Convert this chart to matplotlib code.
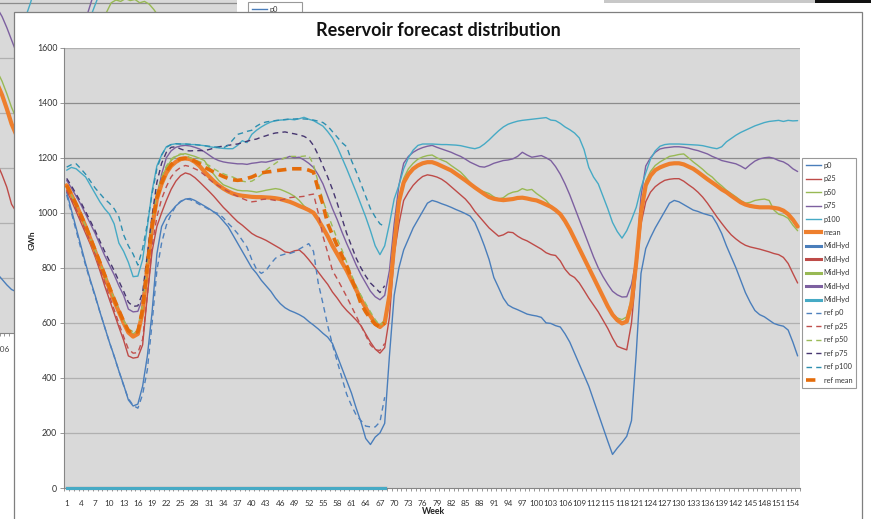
import matplotlib
matplotlib.use("Agg")
import matplotlib.pyplot as plt
from matplotlib.lines import Line2D
from matplotlib.patches import Rectangle

plt.rcParams['font.family'] = ['Lato', 'DejaVu Sans']

W, H = 871, 519

weeks = list(range(1, 156))
ref_weeks = list(range(1, 69))
tick_weeks = list(range(1, 156, 3))
y_ticks = [0, 200, 400, 600, 800, 1000, 1200, 1400, 1600]

# forecast percentiles (GWh), weeks 1..155
p0 = [1075, 1010, 945, 880, 815, 755, 700, 640, 585, 530,
      480, 425, 375, 320, 298, 305, 370, 480, 640, 850,
      950, 985, 1005, 1025, 1040, 1050, 1052, 1045, 1035, 1025,
      1015, 1003, 990, 970, 950, 920, 890, 860, 830, 800,
      780, 755, 735, 715, 690, 670, 655, 645, 638, 630,
      620, 605, 592, 578, 562, 548, 525, 480, 435, 390,
      345, 290, 240, 180, 158, 185, 200, 235, 480, 700,
      800, 865, 905, 945, 975, 1005, 1035, 1045, 1040, 1033,
      1027, 1020, 1012, 1005, 997, 988, 965, 925, 880, 830,
      765, 728, 690, 665, 655, 648, 640, 632, 628, 625,
      620, 600, 598, 590, 585, 560, 530, 490, 450, 410,
      370, 320, 270, 220, 170, 122, 145, 165, 188, 245,
      490, 780, 870, 910, 945, 975, 1005, 1035, 1045, 1040,
      1030, 1020, 1010, 1005, 998, 993, 988, 960, 925, 880,
      840, 800, 755, 710, 675, 645, 630, 622, 610, 598,
      592, 588, 574, 530, 480]

p25 = [1080, 1045, 1005, 965, 925, 885, 840, 790, 735, 685,
       635, 585, 537, 480, 472, 475, 520, 700, 860, 950,
       1000, 1045, 1085, 1115, 1135, 1145, 1140, 1128, 1112, 1095,
       1078, 1060, 1040, 1020, 1003, 985, 968, 955, 940, 925,
       915, 908, 900, 890, 880, 870, 858, 855, 862, 865,
       850, 830, 808, 785, 762, 740, 712, 690, 665, 645,
       628, 610, 590, 560, 530, 505, 490, 510, 620, 850,
       960, 1045, 1075, 1100, 1118, 1132, 1138, 1135, 1130, 1122,
       1110, 1095, 1080, 1065, 1050, 1030, 1005, 985, 965, 945,
       930, 915, 920, 930, 928, 915, 905, 898, 888, 878,
       868, 855, 848, 845, 825, 795, 775, 765, 745, 718,
       690, 665, 640, 610, 580, 545, 515, 508, 502, 600,
       790, 960, 1040, 1075, 1095, 1108, 1118, 1122, 1124, 1124,
       1115, 1102, 1090, 1075, 1057, 1035, 1010, 985, 962, 940,
       920, 905, 892, 882, 876, 872, 868, 863, 858, 852,
       848, 838, 816, 780, 745]

p50 = [1095, 1062, 1028, 990, 950, 906, 862, 818, 773, 728,
       685, 645, 606, 572, 560, 572, 660, 830, 975, 1070,
       1125, 1165, 1190, 1205, 1212, 1215, 1210, 1205, 1198, 1190,
       1165, 1140, 1118, 1102, 1095, 1088, 1082, 1080, 1080, 1078,
       1075, 1078, 1082, 1085, 1088, 1085, 1078, 1070, 1060, 1045,
       1025, 1012, 1000, 975, 945, 912, 878, 848, 818, 788,
       755, 722, 690, 660, 630, 605, 592, 610, 720, 900,
       1055, 1125, 1160, 1180, 1195, 1203, 1208, 1210, 1200, 1192,
       1185, 1172, 1160, 1148, 1130, 1110, 1090, 1082, 1076, 1070,
       1058, 1050, 1055, 1068, 1075, 1078, 1088, 1082, 1085, 1070,
       1058, 1045, 1025, 1010, 990, 965, 935, 900, 865, 830,
       795, 760, 725, 690, 658, 632, 618, 612, 622, 690,
       840, 1015, 1115, 1150, 1172, 1185, 1195, 1205, 1208, 1212,
       1214, 1200, 1185, 1172, 1158, 1142, 1130, 1112, 1098, 1082,
       1070, 1058, 1045, 1035, 1038, 1045, 1048, 1050, 1045, 1010,
       995, 990, 980, 955, 935]

p75 = [1118, 1090, 1060, 1030, 995, 960, 925, 885, 845, 810,
       775, 735, 700, 650, 640, 642, 690, 820, 950, 1050,
       1140, 1200, 1225, 1238, 1243, 1245, 1243, 1238, 1232, 1222,
       1210, 1198, 1190, 1185, 1182, 1180, 1178, 1178, 1176, 1180,
       1182, 1185, 1184, 1188, 1193, 1196, 1198, 1205, 1200, 1202,
       1192, 1180, 1165, 1138, 1105, 1060, 1015, 975, 930, 888,
       850, 810, 775, 745, 715, 695, 684, 700, 790, 960,
       1100, 1180, 1205, 1220, 1230, 1237, 1242, 1245, 1238, 1232,
       1226, 1220, 1212, 1205, 1195, 1184, 1176, 1168, 1166, 1172,
       1180, 1185, 1190, 1192, 1196, 1205, 1220, 1210, 1202, 1205,
       1208, 1200, 1190, 1168, 1140, 1105, 1065, 1020, 975, 930,
       885, 840, 800, 768, 740, 715, 702, 694, 695, 740,
       830, 1060, 1170, 1200, 1220, 1232, 1236, 1238, 1240, 1240,
       1238, 1235, 1230, 1226, 1220, 1214, 1205, 1198, 1190, 1186,
       1182, 1178, 1170, 1160, 1175, 1188, 1196, 1200, 1202, 1198,
       1190, 1185, 1175, 1160, 1150]

p100 = [1155, 1165, 1160, 1145, 1130, 1100, 1070, 1040, 1015, 995,
        960, 890, 860, 820, 768, 770, 830, 950, 1080, 1170,
        1210, 1240, 1248, 1251, 1250, 1250, 1248, 1248, 1246, 1244,
        1240, 1238, 1236, 1234, 1233, 1233, 1245, 1262, 1255, 1285,
        1300, 1312, 1322, 1330, 1335, 1337, 1338, 1340, 1338, 1342,
        1347, 1340, 1335, 1325, 1315, 1295, 1272, 1240, 1200, 1160,
        1118, 1075, 1030, 985, 935, 880, 848, 880, 960, 1050,
        1100, 1160, 1200, 1228, 1245, 1250, 1250, 1250, 1249, 1248,
        1248, 1247, 1246, 1244, 1240, 1236, 1233, 1238, 1250, 1265,
        1282, 1298, 1312, 1322, 1328, 1333, 1336, 1338, 1340, 1342,
        1344, 1346, 1337, 1335, 1325, 1312, 1302, 1290, 1272, 1230,
        1165, 1130, 1105, 1060, 1015, 965, 932, 908, 935, 975,
        1020, 1090, 1145, 1195, 1225, 1242, 1248, 1250, 1250, 1250,
        1249, 1248, 1247, 1246, 1244, 1240, 1236, 1233, 1240, 1258,
        1270, 1282, 1292, 1300, 1308, 1316, 1322, 1328, 1332, 1334,
        1336, 1332, 1336, 1334, 1335]

mean = [1100, 1065, 1030, 990, 950, 905, 860, 815, 770, 725,
        680, 640, 600, 565, 550, 560, 640, 800, 950, 1050,
        1105, 1145, 1170, 1185, 1195, 1198, 1195, 1185, 1170, 1150,
        1132, 1115, 1100, 1088, 1078, 1070, 1065, 1062, 1060, 1058,
        1057, 1057, 1056, 1055, 1053, 1050, 1045, 1040, 1033, 1025,
        1018, 1010, 1000, 975, 945, 915, 880, 850, 820, 790,
        755, 720, 685, 655, 625, 598, 585, 600, 700, 880,
        1040, 1110, 1140, 1160, 1172, 1180, 1184, 1184, 1178, 1170,
        1162, 1154, 1142, 1130, 1118, 1105, 1092, 1080, 1068, 1057,
        1051, 1048, 1046, 1048, 1050, 1054, 1055, 1052, 1048, 1045,
        1038, 1030, 1022, 1010, 995, 970, 940, 905, 870, 835,
        800, 765, 730, 695, 660, 630, 610, 598, 605, 670,
        820, 1000, 1100, 1135, 1155, 1165, 1172, 1178, 1180, 1180,
        1176, 1168, 1160, 1148, 1135, 1122, 1110, 1098, 1085, 1075,
        1062, 1050, 1038, 1030, 1025, 1022, 1020, 1020, 1020, 1018,
        1015, 1008, 995, 975, 950]

# MidHyd series (all zero), weeks 1..68
midhyd = [0] * 68

# reference distribution, weeks 1..68
ref_p0 = [1065, 1000, 935, 870, 808, 750, 695, 640, 585, 530,
          478, 425, 372, 325, 300, 290, 340, 430, 600, 790,
          890, 955, 995, 1025, 1042, 1050, 1048, 1040, 1030, 1022,
          1012, 1003, 997, 982, 962, 945, 925, 900, 875, 830,
          795, 780, 790, 815, 835, 845, 850, 852, 858, 868,
          878, 888, 860, 745, 670, 590, 520, 460, 400, 340,
          300, 265, 245, 225, 222, 222, 240, 330]

ref_p25 = [1085, 1050, 1012, 975, 935, 895, 850, 800, 748, 698,
           648, 598, 550, 505, 490, 492, 540, 700, 880, 985,
           1050, 1095, 1130, 1152, 1165, 1172, 1168, 1160, 1152, 1138,
           1122, 1108, 1098, 1087, 1078, 1068, 1060, 1052, 1045, 1040,
           1042, 1048, 1050, 1048, 1045, 1046, 1050, 1055, 1057, 1058,
           1060, 1065, 1068, 1000, 915, 855, 790, 760, 728, 695,
           660, 625, 590, 555, 520, 502, 500, 525]

ref_p50 = [1098, 1065, 1030, 992, 952, 908, 864, 820, 775, 730,
           688, 648, 610, 578, 568, 578, 665, 830, 975, 1070,
           1130, 1170, 1195, 1208, 1214, 1210, 1200, 1192, 1186, 1180,
           1172, 1160, 1150, 1142, 1135, 1130, 1122, 1115, 1112, 1115,
           1125, 1138, 1155, 1168, 1180, 1192, 1200, 1205, 1205, 1204,
           1206, 1208, 1175, 1110, 1045, 995, 950, 905, 865, 820,
           775, 735, 700, 670, 640, 612, 590, 605]

ref_p75 = [1125, 1098, 1068, 1038, 1004, 970, 935, 897, 860, 825,
           790, 752, 715, 675, 660, 662, 710, 850, 990, 1110,
           1180, 1220, 1238, 1240, 1232, 1226, 1225, 1226, 1226, 1226,
           1230, 1235, 1240, 1242, 1245, 1248, 1250, 1255, 1260, 1265,
           1268, 1275, 1280, 1286, 1290, 1292, 1294, 1290, 1287, 1283,
           1278, 1268, 1245, 1210, 1170, 1130, 1085, 1035, 980, 925,
           880, 835, 800, 770, 745, 728, 710, 735]

ref_p100 = [1166, 1175, 1178, 1160, 1140, 1115, 1090, 1070, 1050, 1035,
            1015, 985, 920, 880, 850, 810, 870, 960, 1070, 1160,
            1210, 1238, 1248, 1251, 1250, 1250, 1249, 1248, 1246, 1244,
            1242, 1240, 1238, 1236, 1245, 1265, 1285, 1290, 1296, 1300,
            1315, 1325, 1330, 1333, 1335, 1337, 1339, 1341, 1341, 1342,
            1341, 1340, 1337, 1333, 1328, 1315, 1295, 1275, 1255, 1240,
            1190, 1150, 1105, 1060, 1015, 985, 960, 950]

ref_mean = [1100, 1066, 1030, 992, 952, 908, 864, 820, 775, 730,
            687, 646, 606, 572, 560, 568, 650, 810, 955, 1055,
            1110, 1150, 1175, 1190, 1197, 1198, 1195, 1188, 1178, 1166,
            1157, 1148, 1140, 1132, 1125, 1120, 1118, 1120, 1125, 1130,
            1138, 1145, 1148, 1150, 1153, 1155, 1157, 1160, 1160, 1160,
            1160, 1155, 1148, 1085, 1030, 960, 920, 880, 845, 808,
            760, 720, 670, 640, 615, 595, 585, 600]

# fragments of the chart window lying behind (same scale)
bg_weeks = [104, 105, 106, 107, 108, 109, 110]
bg_p75 = [1200, 1180, 1150, 1110, 1065, 1020, 980]
bg_p50 = [980, 950, 915, 870, 820, 780, 740]
bg_mean = [940, 905, 865, 815, 760, 720, 680]
bg_p25 = [650, 615, 575, 530, 468, 440, 410]
bg_p0 = [240, 215, 195, 175, 158, 150, 140]
bg_p100_a_weeks = [110, 111, 112, 113]
bg_p100_a = [1080, 1150, 1200, 1260]
bg_p75_b_weeks = [123, 124, 125, 126]
bg_p75_b = [1080, 1160, 1215, 1250]
bg_p100_b_weeks = [124, 125, 126, 127]
bg_p100_b = [1090, 1165, 1210, 1250]
bg_p50_b_weeks = list(range(127, 141))
bg_p50_b = [1120, 1165, 1200, 1210, 1205, 1215, 1208, 1212, 1200, 1205,
            1195, 1175, 1150, 1110]
bg_tick_weeks = [106]

C_P0, C_P25, C_P50, C_P75, C_P100 = '#4a7ebb', '#be4b48', '#98b954', '#7d60a0', '#46aac5'
C_MEAN = '#ee7f2d'
C_R0, C_R25, C_R50, C_R75, C_R100, C_RMEAN = '#4f81bd', '#c0504d', '#9bbb59', '#473670', '#2e8fb0', '#e46c0a'
DASH = (0, (4, 3))
THICK_DASH = (0, (2.6, 1.6))

main_styles = [
    ('p0', C_P0, '-', 1.0), ('p25', C_P25, '-', 1.0), ('p50', C_P50, '-', 1.0),
    ('p75', C_P75, '-', 1.0), ('p100', C_P100, '-', 1.0), ('mean', C_MEAN, '-', 3.0),
]
mid_colors = [C_P0, C_P25, C_P50, C_P75, C_P100]
ref_styles = [
    ('ref p0', C_R0, DASH, 1.0), ('ref p25', C_R25, DASH, 1.0), ('ref p50', C_R50, DASH, 1.0),
    ('ref p75', C_R75, DASH, 1.0), ('ref p100', C_R100, DASH, 1.0), ('ref mean', C_RMEAN, THICK_DASH, 2.6),
]


def box(l, t, r, b):
    return [l / W, 1 - b / H, (r - l) / W, (b - t) / H]


def legend_items():
    handles, labels = [], []
    for name, c, ls, lw in main_styles:
        handles.append(Line2D([], [], color=c, ls=ls, lw=lw))
        labels.append(name)
    for c in mid_colors:
        handles.append(Line2D([], [], color=c, lw=2.2))
        labels.append('MidHyd')
    for name, c, ls, lw in ref_styles:
        handles.append(Line2D([], [], color=c, ls=ls, lw=lw))
        labels.append(name)
    return handles, labels


def style_axes(ax, labelcolor, xt, show_y):
    ax.set_facecolor('#d9d9d9')
    ax.set_xlim(0.5, 155.5)
    ax.set_ylim(0, 1600)
    for v in y_ticks[1:]:
        col = '#8c8c8c' if v in (1200, 1400) else '#b0b0b0'
        ax.axhline(v, color=col, lw=0.9, zorder=0.5)
    for s in ('top', 'right'):
        ax.spines[s].set_visible(False)
    for s in ('left', 'bottom'):
        ax.spines[s].set_color('#868686')
        ax.spines[s].set_linewidth(0.8)
    if show_y:
        ax.set_yticks(y_ticks)
        ax.set_yticklabels([str(v) for v in y_ticks], fontsize=6.3, color=labelcolor)
    else:
        ax.set_yticks([])
    ax.set_xticks(xt)
    ax.set_xticklabels([str(w) for w in xt], fontsize=5.9, color=labelcolor)
    ax.set_xticks([w + 0.5 for w in range(0, 156)], minor=True)
    ax.tick_params(axis='x', which='major', length=0, pad=9)
    ax.tick_params(axis='x', which='minor', length=2.5, color='#868686', width=0.6)
    ax.tick_params(axis='y', length=3, color='#868686', width=0.6, pad=2)


def add_legend(ax, x_px, y_px):
    handles, labels = legend_items()
    leg = ax.legend(handles, labels, loc='upper left',
                    bbox_to_anchor=(x_px / W, 1 - y_px / H), bbox_transform=fig.transFigure,
                    fontsize=5.3, handlelength=2.0, handletextpad=0.4, labelspacing=0.87,
                    borderpad=0.55, borderaxespad=0, frameon=True, fancybox=False)
    leg.get_frame().set_edgecolor('#808080')
    leg.get_frame().set_linewidth(0.8)
    for t in leg.get_texts():
        t.set_color('#333333')
    return leg


fig = plt.figure(figsize=(W / 100, H / 100), dpi=100)
fig.patch.set_facecolor('white')

# chart window in the background
bg = fig.add_axes(box(-498.7, -107.3, 237, 333), zorder=-2)
style_axes(bg, '#444444', bg_tick_weeks, False)
bg.plot(bg_weeks, bg_p0, color=C_P0, lw=1.0)
bg.plot(bg_weeks, bg_p25, color=C_P25, lw=1.0)
bg.plot(bg_weeks, bg_p50, color=C_P50, lw=1.0)
bg.plot(bg_weeks, bg_p75, color=C_P75, lw=1.0)
bg.plot(bg_weeks, bg_mean, color=C_MEAN, lw=3.0)
bg.plot(bg_p100_a_weeks, bg_p100_a, color=C_P100, lw=1.0)
bg.plot(bg_p75_b_weeks, bg_p75_b, color=C_P75, lw=1.0)
bg.plot(bg_p100_b_weeks, bg_p100_b, color=C_P100, lw=1.0)
bg.plot(bg_p50_b_weeks, bg_p50_b, color=C_P50, lw=1.0)
add_legend(bg, 248, 1.5)

fig.add_artist(Rectangle((604 / W, 1 - 3 / H), 211 / W, 3 / H, transform=fig.transFigure,
                         facecolor='#c8c8c8', edgecolor='none', zorder=-1.5))
fig.add_artist(Rectangle((815 / W, 1 - 3 / H), 56 / W, 3 / H, transform=fig.transFigure,
                         facecolor='#111111', edgecolor='none', zorder=-1.5))

# main chart window
fig.add_artist(Rectangle((14 / W, -0.01), 848 / W, 1 - 12 / H + 0.01, transform=fig.transFigure,
                         facecolor='white', edgecolor='#7f7f7f', lw=0.9, zorder=-1))

ax = fig.add_axes(box(64.3, 47.7, 800, 488), zorder=0)
style_axes(ax, '#333333', tick_weeks, True)

z = 2
for (name, c, ls, lw), data in zip(main_styles, [p0, p25, p50, p75, p100, mean]):
    ax.plot(weeks, data, color=c, ls=ls, lw=lw, zorder=z, solid_capstyle='round')
    z += 0.1
for c in mid_colors:
    ax.plot(ref_weeks, midhyd, color=c, lw=2.2, zorder=z, clip_on=False)
    z += 0.1
for (name, c, ls, lw), data in zip(ref_styles, [ref_p0, ref_p25, ref_p50, ref_p75, ref_p100, ref_mean]):
    ax.plot(ref_weeks, data, color=c, ls=ls, lw=lw, zorder=z)
    z += 0.1

add_legend(ax, 802, 158)

fig.text(438 / W, 1 - 30 / H, 'Reservoir forecast distribution', ha='center', va='center',
         fontsize=13, fontweight='bold', color='#111111')
fig.text(32 / W, 1 - 240 / H, 'GWh', ha='center', va='center', rotation=90,
         fontsize=6, fontweight='bold', color='#222222')
fig.text(433 / W, 1 - 512 / H, 'Week', ha='center', va='center',
         fontsize=6.3, fontweight='bold', color='#222222')

fig.savefig('out.png', dpi=100, facecolor='white')
